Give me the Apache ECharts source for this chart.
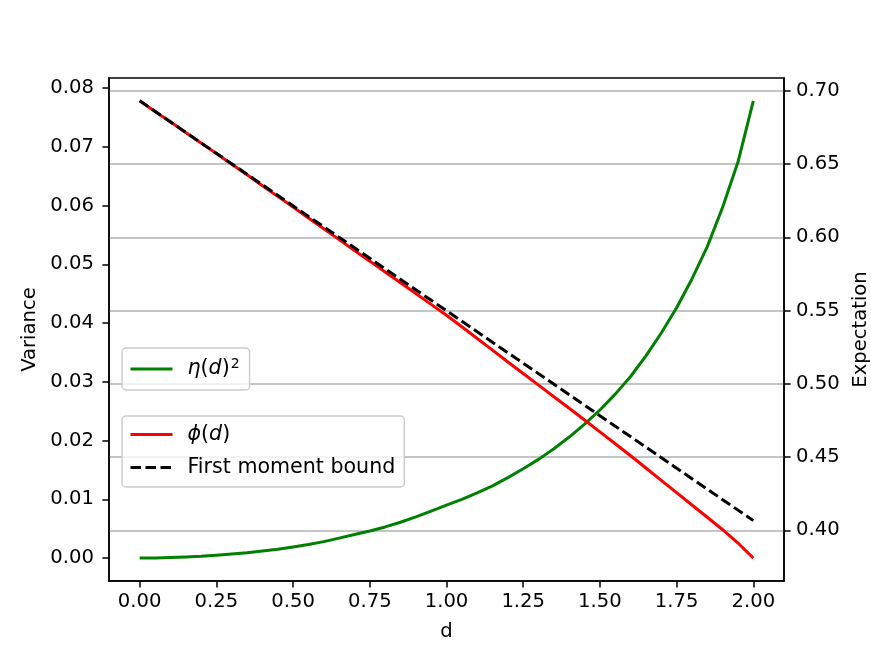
<!DOCTYPE html>
<html>
<head>
<meta charset="UTF-8">
<title>Variance / Expectation vs d</title>
<script src="https://cdn.jsdelivr.net/npm/echarts@6/dist/echarts.min.js"></script>
<style>
    html, body { margin: 0; padding: 0; background: #fff; overflow: hidden; }
    #main { width: 871px; height: 653px; }
</style>
</head>
<body>
<div id="main"></div>
<script>
    // values
    var dVals = [0.00, 0.05, 0.10, 0.15, 0.20, 0.25, 0.30, 0.35, 0.40, 0.45,
                 0.50, 0.55, 0.60, 0.65, 0.70, 0.75, 0.80, 0.85, 0.90, 0.95,
                 1.00, 1.05, 1.10, 1.15, 1.20, 1.25, 1.30, 1.35, 1.40, 1.45,
                 1.50, 1.55, 1.60, 1.65, 1.70, 1.75, 1.80, 1.85, 1.90, 1.95, 2.00];
    var etaSq = [0.0000, 0.0000, 0.0001, 0.0002, 0.0003, 0.0005, 0.0007, 0.0009, 0.0012, 0.0015,
                 0.0019, 0.0023, 0.0028, 0.0034, 0.0040, 0.0046, 0.0053, 0.0061, 0.0070, 0.0080,
                 0.0090, 0.0100, 0.0111, 0.0123, 0.0137, 0.0152, 0.0168, 0.0186, 0.0206, 0.0228,
                 0.0252, 0.0279, 0.0309, 0.0344, 0.0383, 0.0426, 0.0475, 0.0530, 0.0597, 0.0674, 0.0778];
    var phiVals = [0.6931, 0.6859, 0.6788, 0.6715, 0.6644, 0.6571, 0.6498, 0.6426, 0.6352, 0.6279,
                   0.6206, 0.6132, 0.6058, 0.5984, 0.5910, 0.5837, 0.5763, 0.5689, 0.5616, 0.5542,
                   0.5468, 0.5389, 0.5309, 0.5230, 0.5149, 0.5070, 0.4991, 0.4912, 0.4833, 0.4753,
                   0.4672, 0.4591, 0.4509, 0.4425, 0.4341, 0.4257, 0.4173, 0.4089, 0.4004, 0.3913, 0.3810];
    var boundD = [0, 2];
    var boundVals = [0.6931, 0.4066];

    var xTicks = [0, 0.25, 0.5, 0.75, 1, 1.25, 1.5, 1.75, 2];
    var varTicks = [0, 0.01, 0.02, 0.03, 0.04, 0.05, 0.06, 0.07, 0.08];
    var expTicks = [0.40, 0.45, 0.50, 0.55, 0.60, 0.65, 0.70];

    function pairs(xs, ys) {
        var out = [];
        for (var i = 0; i < xs.length; i++) out.push([xs[i], ys[i]]);
        return out;
    }

    var FONT = 'DejaVu Sans';
    var FS = 19.6;
    var LFS = 20.6;
    var LW = 3;
    var fmt2 = function (v) { return v.toFixed(2); };

    var myChart = echarts.init(document.getElementById('main'), null, {width: 871, height: 653});

    function legendText(lh) {
        return {
            color: '#000',
            fontFamily: FONT,
            fontSize: LFS,
            lineHeight: lh,
            padding: [0, 0, 0, 10],
            rich: {
                i: {fontStyle: 'italic', fontFamily: FONT, fontSize: LFS, color: '#000', lineHeight: 20},
                s: {fontFamily: FONT, fontSize: 14, color: '#000', lineHeight: 13, verticalAlign: 'top', padding: [0, 0, 0, 1]}
            }
        };
    }
    var legendNames = {
        'eta': '{i|η}({i|d}){s|2}',
        'phi': '{i|ϕ}({i|d})',
        'bound': 'First moment bound'
    };
    var legendBase = {
        orient: 'vertical',
        left: 122,
        itemWidth: 42,
        itemHeight: 14,
        itemGap: 12,
        backgroundColor: 'rgba(255,255,255,0.8)',
        borderColor: '#cccccc',
        borderWidth: 1.5,
        borderRadius: 4,
        itemStyle: {opacity: 0},
        lineStyle: {width: LW},
        formatter: function (name) { return legendNames[name]; },
        selectedMode: false
    };

    myChart.setOption({
        animation: false,
        backgroundColor: '#fff',
        grid: {
            left: 109, right: 87, top: 78, bottom: 72,
            show: true, borderColor: '#000', borderWidth: 1.5,
            containLabel: false,
            outerBoundsMode: 'none'
        },
        legend: [
            Object.assign({}, legendBase, {top: 348, padding: [9, 10, 9, 7], textStyle: legendText(24), data: ['eta']}),
            Object.assign({}, legendBase, {top: 416, padding: [8, 9, 9, 7], textStyle: legendText(20), data: ['phi', 'bound']})
        ],
        xAxis: {
            type: 'value',
            min: -0.1, max: 2.1,
            name: 'd',
            nameLocation: 'middle',
            nameGap: 41,
            nameTextStyle: {color: '#000', fontFamily: FONT, fontSize: FS},
            axisLine: {show: true, onZero: false, lineStyle: {color: '#000', width: 1.5}},
            axisTick: {show: true, length: 6.6, lineStyle: {color: '#000', width: 1.5}, customValues: xTicks},
            axisLabel: {color: '#000', fontFamily: FONT, fontSize: FS, margin: 11, formatter: fmt2, customValues: xTicks},
            splitLine: {show: false}
        },
        yAxis: [{
            type: 'value',
            position: 'left',
            min: -0.0039, max: 0.0817,
            name: 'Variance',
            nameLocation: 'middle',
            nameGap: 69,
            nameTextStyle: {color: '#000', fontFamily: FONT, fontSize: FS},
            axisLine: {show: true, onZero: false, lineStyle: {color: '#000', width: 1.5}},
            axisTick: {show: true, length: 6.6, lineStyle: {color: '#000', width: 1.5}, customValues: varTicks},
            axisLabel: {color: '#000', fontFamily: FONT, fontSize: FS, margin: 15, formatter: fmt2, customValues: varTicks},
            splitLine: {show: false}
        }, {
            type: 'value',
            position: 'right',
            min: 0.3654, max: 0.7087,
            name: 'Expectation',
            nameLocation: 'middle',
            nameGap: 64,
            nameTextStyle: {color: '#000', fontFamily: FONT, fontSize: FS},
            axisLine: {show: true, onZero: false, lineStyle: {color: '#000', width: 1.5}},
            axisTick: {show: true, length: 6.6, lineStyle: {color: '#000', width: 1.5}, customValues: expTicks},
            axisLabel: {color: '#000', fontFamily: FONT, fontSize: FS, margin: 12, formatter: fmt2, customValues: expTicks},
            splitLine: {show: true, lineStyle: {color: '#b0b0b0', width: 1.5}}
        }],
        series: [{
            name: 'eta',
            type: 'line',
            yAxisIndex: 0,
            data: pairs(dVals, etaSq),
            symbol: 'none',
            lineStyle: {color: '#008000', width: LW},
            itemStyle: {color: '#008000'}
        }, {
            name: 'phi',
            type: 'line',
            yAxisIndex: 1,
            data: pairs(dVals, phiVals),
            symbol: 'none',
            lineStyle: {color: '#ff0000', width: LW},
            itemStyle: {color: '#ff0000'}
        }, {
            name: 'bound',
            type: 'line',
            yAxisIndex: 1,
            data: pairs(boundD, boundVals),
            symbol: 'none',
            lineStyle: {color: '#000', width: LW, type: [10.5, 4.5]},
            itemStyle: {color: '#000'}
        }]
    });
</script>
</body>
</html>
